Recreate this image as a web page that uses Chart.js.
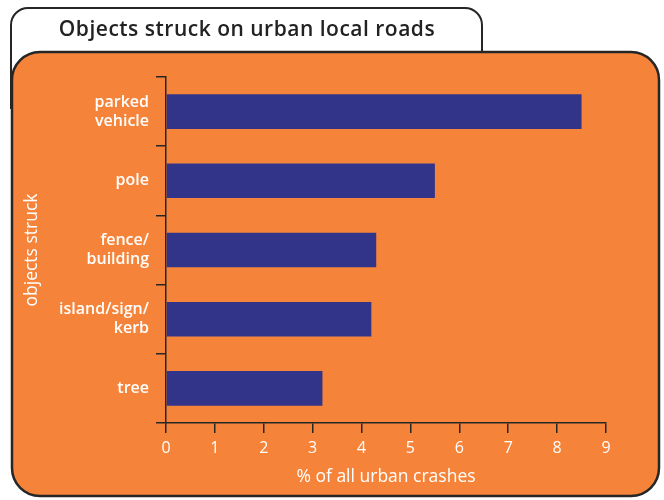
<!DOCTYPE html>
<html>
<head>
<meta charset="utf-8">
<script src="https://cdn.jsdelivr.net/npm/chart.js@4"></script>
<style>
  html, body { margin: 0; padding: 0; background: #fff; }
  #wrap { width: 664px; height: 500px; position: relative; }
</style>
</head>
<body>
<div id="wrap"><canvas id="objetosChart" width="664" height="500"></canvas></div>
<script>
// Data
const categorias = [['parked', 'vehicle'], 'pole', ['fence/', 'building'], ['island/sign/', 'kerb'], 'tree'];
const porcentajes = [8.5, 5.5, 4.3, 4.2, 3.2];
const ticksX = [0, 1, 2, 3, 4, 5, 6, 7, 8, 9];

const titulo = 'Objects struck on urban local roads';
const tituloX = '% of all urban crashes';
const tituloY = 'objects struck';

const naranja = '#f5843a';
const azul = '#313489';
const oscuro = '#262626';
const fuente = '"Open Sans", "DejaVu Sans", sans-serif';

function roundRectTop(ctx, x, y, w, h, r) {
    ctx.beginPath();
    ctx.moveTo(x, y + h);
    ctx.lineTo(x, y + r);
    ctx.arcTo(x, y, x + r, y, r);
    ctx.lineTo(x + w - r, y);
    ctx.arcTo(x + w, y, x + w, y + r, r);
    ctx.lineTo(x + w, y + h);
}

// Background: title tab and orange panel
const fondoPlugin = {
    id: 'fondo',
    beforeDraw(chart) {
        const ctx = chart.ctx;
        ctx.save();
        ctx.fillStyle = '#fff';
        ctx.fillRect(0, 0, chart.width, chart.height);

        // tab
        roundRectTop(ctx, 11, 8, 471, 100, 17);
        ctx.closePath();
        ctx.fillStyle = '#fff';
        ctx.fill();
        ctx.strokeStyle = oscuro;
        ctx.lineWidth = 2;
        ctx.stroke();

        ctx.fillStyle = '#222';
        ctx.font = '600 21px ' + fuente;
        ctx.letterSpacing = '0.5px';
        ctx.textAlign = 'center';
        ctx.textBaseline = 'middle';
        ctx.fillText(titulo, 247, 30);
        ctx.letterSpacing = '0px';

        // panel
        ctx.beginPath();
        ctx.roundRect(12, 52, 647, 444, 28);
        ctx.fillStyle = naranja;
        ctx.fill();
        ctx.lineWidth = 2.5;
        ctx.strokeStyle = oscuro;
        ctx.stroke();
        ctx.restore();
    }
};

const objetosChart = new Chart(document.getElementById('objetosChart'), {
    type: 'bar',
    data: {
        labels: categorias,
        datasets: [{
            data: porcentajes,
            backgroundColor: azul,
            borderWidth: 0,
            categoryPercentage: 1,
            barPercentage: 0.5
        }]
    },
    options: {
        indexAxis: 'y',
        responsive: false,
        animation: false,
        layout: { padding: { top: 77, right: 58, left: 0, bottom: 0 } },
        plugins: {
            legend: { display: false },
            tooltip: { enabled: false }
        },
        scales: {
            x: {
                min: 0,
                max: 9,
                afterFit: s => { s.height = 77; },
                afterBuildTicks: s => { s.ticks = ticksX.map(v => ({ value: v })); },
                grid: {
                    drawOnChartArea: false,
                    drawTicks: true,
                    tickLength: 10,
                    color: oscuro,
                    lineWidth: 1.5
                },
                border: { color: oscuro, width: 1.5 },
                ticks: {
                    color: '#fff',
                    padding: 6,
                    font: { family: fuente, size: 16 }
                },
                title: {
                    display: true,
                    text: tituloX,
                    color: '#fff',
                    font: { family: fuente, size: 17.5 },
                    padding: { top: 0, bottom: 12 }
                }
            },
            y: {
                afterFit: s => { s.width = 166; },
                grid: {
                    drawOnChartArea: false,
                    offset: true,
                    tickLength: 10,
                    color: oscuro,
                    lineWidth: 1.5
                },
                border: { color: oscuro, width: 1.5 },
                ticks: {
                    color: '#fff',
                    padding: 7,
                    font: { family: fuente, size: 16, weight: '600', lineHeight: 1.2 }
                },
                title: {
                    display: true,
                    text: tituloY,
                    color: '#fff',
                    font: { family: fuente, size: 17.5, weight: '500' },
                    padding: { top: 22, bottom: 0 }
                }
            }
        }
    },
    plugins: [fondoPlugin]
});
</script>
</body>
</html>
